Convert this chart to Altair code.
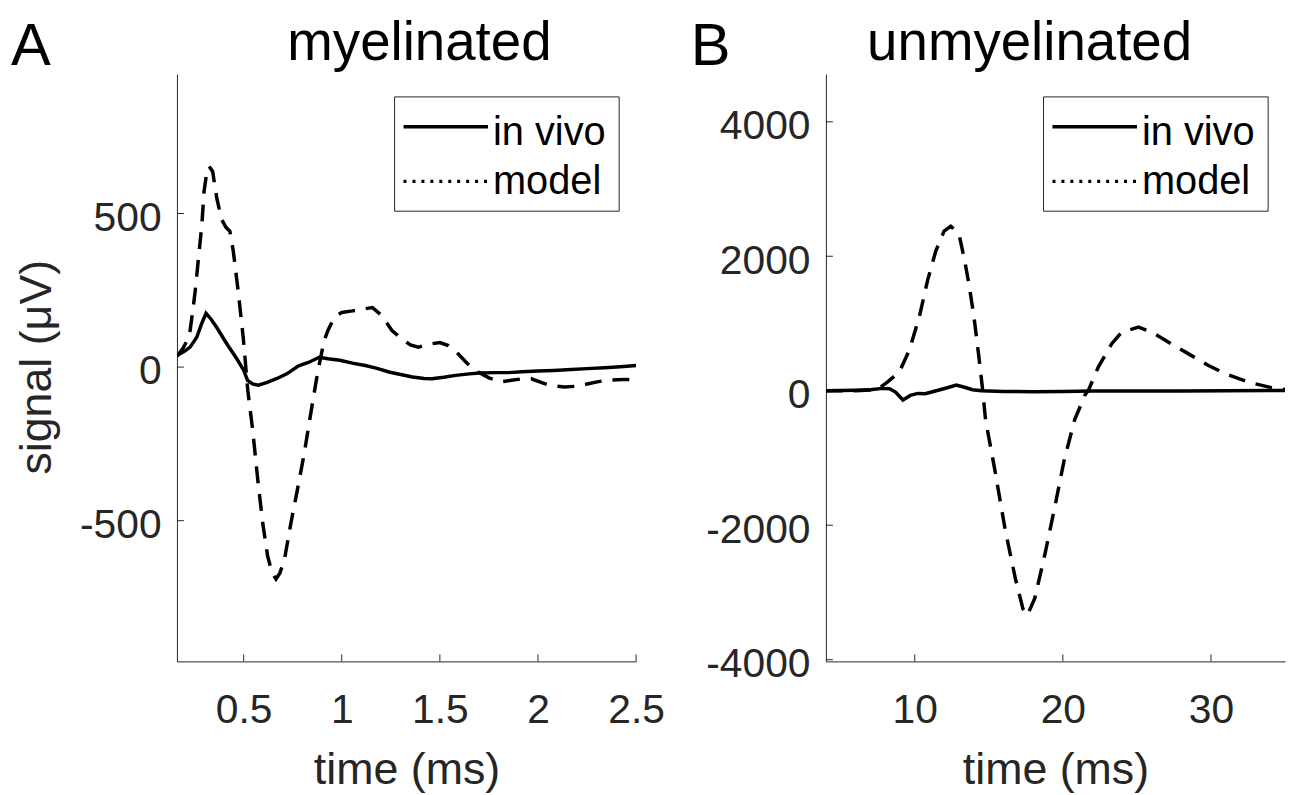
import altair as alt
import pandas as pd

# ---------------- data ----------------
# Panel A : myelinated, time in ms, signal in microvolts
a_vivo_t = [0.16, 0.20, 0.227, 0.261, 0.285, 0.308, 0.335, 0.363, 0.413, 0.464, 0.50, 0.52, 0.545,
            0.575, 0.62, 0.67, 0.72, 0.78, 0.83, 0.886, 0.93, 0.99, 1.06, 1.12, 1.18, 1.24, 1.30,
            1.36, 1.42, 1.46, 1.52, 1.58, 1.65, 1.70, 1.78, 1.85, 1.92, 2.00, 2.08, 2.17, 2.25,
            2.34, 2.42, 2.50]
a_vivo_v = [38, 52, 65, 97, 140, 175, 155, 129, 77, 28, -10, -43, -55,
            -59, -50, -37, -22, 4, 15, 32, 27, 22, 12, 5, -4, -16, -24,
            -32, -37, -38, -33, -27, -22, -19, -18, -18, -15, -13, -11, -8, -5,
            -2, 1, 5]

a_model_t = [0.16, 0.19, 0.215, 0.227, 0.24, 0.253, 0.27, 0.287, 0.298, 0.31, 0.324, 0.342, 0.363,
             0.388, 0.41, 0.43, 0.447, 0.472, 0.498, 0.521, 0.546, 0.572, 0.597, 0.622, 0.645,
             0.665, 0.685, 0.708, 0.741, 0.774, 0.809, 0.842, 0.876, 0.91, 0.93, 0.954, 0.98,
             1.0, 1.055, 1.10, 1.156, 1.20, 1.256, 1.306, 1.35, 1.39, 1.42, 1.458, 1.50, 1.543,
             1.593, 1.63, 1.66, 1.695, 1.75, 1.814, 1.865, 1.92, 1.966, 2.033, 2.09, 2.134,
             2.201, 2.25, 2.302, 2.35, 2.404, 2.45, 2.50]
a_model_v = [35, 60, 90, 119, 180, 248, 356, 464, 572, 625, 653, 637, 550,
             480, 455, 442, 378, 248, 95, -75, -205, -367, -507, -615, -670,
             -690, -670, -626, -507, -399, -280, -151, -21, 86, 120, 151, 170,
             178, 183, 188, 194, 170, 119, 92, 72, 65, 70, 76, 80, 70,
             43, 18, 0, -16, -35, -48, -43, -38, -38, -54, -62, -65,
             -62, -55, -48, -43, -41, -40, -43]

# Panel B : unmyelinated
b_vivo_t = [4, 5, 6, 7, 7.8, 8.3, 8.7, 9.2, 9.7, 10.2, 10.7, 11.2, 11.7, 12.2, 12.8, 13.3,
            13.9, 14.5, 16, 18, 20, 22, 25, 28, 31, 35]
b_vivo_v = [0, 3, 8, 15, 35, 30, -20, -137, -70, -40, -45, -15, 15, 45, 84, 55,
            15, 0, -10, -15, -10, -5, -5, -3, 0, 5]

b_model_t = [4, 6, 7, 7.6, 8.17, 8.96, 9.63, 10.3, 10.86, 11.42, 11.98, 12.43, 12.99, 13.33,
             13.66, 14.0, 14.33, 14.56, 14.78, 15.4, 16.1, 16.8, 17.3, 17.6, 18.1, 18.8, 19.5,
             20.1, 20.8, 21.5, 21.73, 22.4, 23.3, 23.97, 25.1, 26.0, 27.3, 28.46, 29.8, 31,
             32.5, 34, 35]
b_model_v = [0, 0, 10, 40, 133, 281, 601, 1093, 1635, 2078, 2374, 2447, 2325, 1979,
             1586, 1093, 502, 59, -433, -1170, -2060, -2800, -3240, -3340, -3090, -2420, -1680,
             -1020, -430, -60, 10, 355, 700, 871, 945, 871, 700, 552, 380, 250,
             130, 50, 20]

a_x_ticks = [0.5, 1, 1.5, 2, 2.5]
a_y_ticks = [-500, 0, 500]
b_x_ticks = [10, 20, 30]
b_y_ticks = [-4000, -2000, 0, 2000, 4000]

legend_labels = ["in vivo", "model"]

# ---------------- styling ----------------
W, H = 462, 591
GRAY = "#262626"
FONT = "Liberation Sans"
TFONT = "Liberation Sans"
TICK_FS = 41
LAB_FS = 45
LW = 3.5


def panel(vt, vv, mt, mv, xdom, ydom, xticks, yticks, title_txt, title_x, letter, letter_x, ytitle):
    vivo = pd.DataFrame({"t": vt, "v": vv})
    model = pd.DataFrame({"t": mt, "v": mv})
    xs = alt.Scale(domain=xdom, nice=False, zero=False)
    ys = alt.Scale(domain=ydom, nice=False, zero=False)
    xax = alt.Axis(values=xticks, title="time (ms)", ticks=False, grid=False,
                   labelExpr="'' + datum.value", labelFont=FONT, labelFontSize=TICK_FS,
                   labelColor=GRAY, labelPadding=30, labelFlush=False, labelOverlap=False,
                   titleFont=FONT, titleFontSize=LAB_FS, titleColor=GRAY,
                   titleFontWeight="normal", titleBaseline="alphabetic", titleY=123,
                   titleX=W / 2, titleAlign="center",
                   domainColor=GRAY, domainWidth=1)
    yargs = dict(values=yticks, ticks=False, grid=False,
                 labelExpr="'' + datum.value", labelFont=FONT, labelFontSize=TICK_FS,
                 labelColor=GRAY, labelPadding=16, labelFlush=False, labelOverlap=False,
                 labelBaseline="middle", labelOffset=5,
                 domainColor=GRAY, domainWidth=1)
    if ytitle:
        yax = alt.Axis(title=ytitle, titleFont=FONT, titleFontSize=LAB_FS, titleColor=GRAY,
                       titleFontWeight="normal", titleAngle=270, titleBaseline="alphabetic",
                       titleAlign="center", titleX=-127, titleY=H / 2 - 1, **yargs)
    else:
        yax = alt.Axis(title=None, **yargs)

    lines_v = alt.Chart(vivo).mark_line(color="black", strokeWidth=LW, clip=True).encode(
        x=alt.X("t:Q", scale=xs, axis=xax), y=alt.Y("v:Q", scale=ys, axis=yax))
    lines_m = alt.Chart(model).mark_line(color="black", strokeWidth=LW, strokeDash=[17, 11],
                                         clip=True).encode(x="t:Q", y="v:Q")
    xt = alt.Chart(pd.DataFrame({"t": xticks})).mark_rule(color=GRAY, strokeWidth=1).encode(
        x="t:Q", y=alt.value(H), y2=alt.value(H - 7))
    yt = alt.Chart(pd.DataFrame({"v": yticks})).mark_rule(color=GRAY, strokeWidth=1).encode(
        y="v:Q", x=alt.value(0), x2=alt.value(7))

    one = pd.DataFrame({"k": [0]})
    box = alt.Chart(one).mark_rect(fill="white", stroke=GRAY, strokeWidth=1).encode(
        x=alt.value(219), x2=alt.value(445), y=alt.value(23), y2=alt.value(138))
    leg_solid = alt.Chart(one).mark_rule(color="black", strokeWidth=LW).encode(
        x=alt.value(228), x2=alt.value(313), y=alt.value(53))
    leg_dot = alt.Chart(one).mark_rule(color="black", strokeWidth=LW, strokeDash=[3, 6]).encode(
        x=alt.value(228), x2=alt.value(313), y=alt.value(108))
    lt1 = alt.Chart(pd.DataFrame({"s": [legend_labels[0]]})).mark_text(
        font=FONT, fontSize=40, color="black", align="left", baseline="alphabetic").encode(
        text="s:N", x=alt.value(318), y=alt.value(71))
    lt2 = alt.Chart(pd.DataFrame({"s": [legend_labels[1]]})).mark_text(
        font=FONT, fontSize=40, color="black", align="left", baseline="alphabetic").encode(
        text="s:N", x=alt.value(318), y=alt.value(121))

    ttl = alt.Chart(pd.DataFrame({"s": [title_txt]})).mark_text(
        font=TFONT, fontSize=55, color="black", align="center", baseline="alphabetic").encode(
        text="s:N", x=alt.value(title_x), y=alt.value(-14))
    let = alt.Chart(pd.DataFrame({"s": [letter]})).mark_text(
        font=TFONT, fontSize=60, color="black", align="left", baseline="alphabetic").encode(
        text="s:N", x=alt.value(letter_x), y=alt.value(-9))

    return alt.layer(xt, yt, lines_v, lines_m, box, leg_solid, leg_dot, lt1, lt2, ttl, let).properties(
        width=W, height=H)


pa = panel(a_vivo_t, a_vivo_v, a_model_t, a_model_v, [0.16, 2.5], [-958, 954],
           a_x_ticks, a_y_ticks, "myelinated", 244, "A", -167, "signal (μV)")
pb = panel(b_vivo_t, b_vivo_v, b_model_t, b_model_v, [4, 35], [-4025, 4710],
           b_x_ticks, b_y_ticks, "unmyelinated", 205, "B", -136, None)

chart = alt.hconcat(pa, pb, spacing=191, bounds="flush").configure_view(stroke=None).properties(
    padding={"left": 3, "top": 6, "right": 5, "bottom": 0})

chart.save("out.html", embed_options={"renderer": "svg", "actions": False})
